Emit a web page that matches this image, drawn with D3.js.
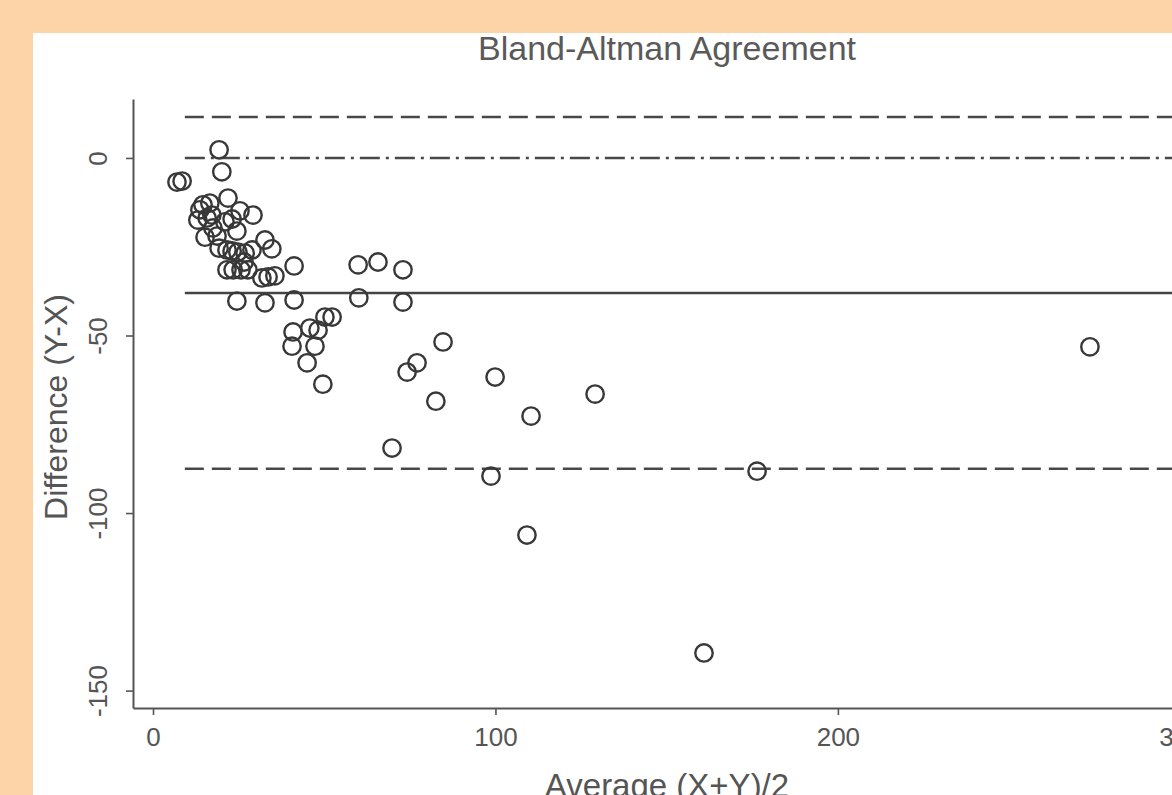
<!DOCTYPE html>
<html>
<head>
<meta charset="utf-8">
<script src="https://cdn.jsdelivr.net/npm/d3@7"></script>
<style>
  html, body { margin: 0; padding: 0; background: #FCD4A7; overflow: hidden; }
  svg { display: block; font-family: "Liberation Sans", Arial, sans-serif; }
</style>
</head>
<body>
<svg id="chart" width="1172" height="795"></svg>
<script>
// ---- Data ----
const avgValues = [
  7.0, 8.5, 19.3, 20.1, 21.9, 14.6, 16.6, 13.7, 25.4, 29.2,
  13.1, 15.8, 17.2, 21.0, 23.1, 15.2, 18.7, 24.5, 32.7, 34.7,
  19.3, 21.6, 23.1, 24.8, 26.9, 28.9, 21.6, 23.4, 25.7, 27.7,
  31.8, 33.6, 35.6, 41.2, 24.5, 32.7, 41.2, 59.9, 65.7, 73.0,
  60.1, 73.0, 50.2, 52.3, 40.9, 45.8, 48.2, 40.6, 47.3, 45.0,
  49.6, 84.7, 77.1, 74.2, 99.9, 82.6, 110.4, 129.1, 69.8, 98.7,
  176.4, 109.2, 160.9, 273.6, 17.5, 26.6
];
const diffValues = [
  -6.8, -6.5, 2.3, -3.9, -11.3, -13.2, -12.7, -14.6, -14.9, -16.1,
  -17.5, -16.9, -16.1, -18.0, -17.2, -22.3, -22.0, -20.6, -23.1, -25.6,
  -25.4, -25.9, -26.2, -26.5, -26.8, -25.9, -31.5, -31.5, -31.5, -31.5,
  -33.8, -33.5, -33.2, -30.4, -40.3, -40.8, -40.0, -30.1, -29.3, -31.5,
  -39.4, -40.6, -44.8, -44.8, -49.0, -47.9, -48.5, -53.0, -53.0, -57.7,
  -63.7, -51.8, -57.7, -60.3, -61.7, -68.5, -72.7, -66.5, -81.7, -89.6,
  -88.2, -106.2, -139.4, -53.2, -19.7, -29.3
];
// reference lines: upper limit, zero, mean, lower limit
const refLineNames = ["upper", "zero", "mean", "lower"];
const refLineValues = [11.5, 0, -38.0, -87.5];
const refLineStart = 9.3;
const refLineEnd = 310;

const xTicks = [0, 100, 200, 300];
const yTicks = [0, -50, -100, -150];
const titleText = "Bland-Altman Agreement";
const xLabel = "Average (X+Y)/2";
const yLabel = "Difference (Y-X)";

// ---- Layout ----
const svg = d3.select("#chart");
const W = 1172, H = 795;

svg.append("rect").attr("x", 0).attr("y", 0).attr("width", W).attr("height", H).attr("fill", "#FCD4A7");
svg.append("rect").attr("x", 33).attr("y", 33).attr("width", W).attr("height", H).attr("fill", "#ffffff");

const x = d3.scaleLinear().domain([-5.84, 303.7]).range([133, 1193]);
const y = d3.scaleLinear().domain([16.6, -154.9]).range([99, 708]);

const axisColor = "#555";
const textColor = "#555";
const fmt = d => String(d);   // plain hyphen-minus as in the reference

// Reference lines
const lineStyles = {
  upper: { dash: "19,8", width: 2.5, color: "#484848" },
  zero:  { dash: "20,6,3,6", width: 2.5, color: "#484848" },
  mean:  { dash: null, width: 2.5, color: "#444" },
  lower: { dash: "19,8", width: 2.5, color: "#484848" }
};
refLineNames.forEach((name, i) => {
  const st = lineStyles[name];
  const l = svg.append("line")
    .attr("x1", x(refLineStart)).attr("x2", x(refLineEnd))
    .attr("y1", y(refLineValues[i])).attr("y2", y(refLineValues[i]))
    .attr("stroke", st.color).attr("stroke-width", st.width);
  if (st.dash) l.attr("stroke-dasharray", st.dash);
});

// Points
const pts = avgValues.map((a, i) => ({ a, d: diffValues[i] }));
svg.append("g").selectAll("circle").data(pts).enter().append("circle")
  .attr("cx", p => x(p.a)).attr("cy", p => y(p.d)).attr("r", 8.7)
  .attr("fill", "none").attr("stroke", "#383838").attr("stroke-width", 2.4);

// Axes
const xAxis = svg.append("g").attr("transform", "translate(0,708)")
  .call(d3.axisBottom(x).tickValues(xTicks).tickSize(7).tickSizeOuter(0).tickFormat(fmt));
const yAxis = svg.append("g").attr("transform", "translate(133,0)")
  .call(d3.axisLeft(y).tickValues(yTicks).tickSize(7).tickSizeOuter(0).tickFormat(fmt));

[xAxis, yAxis].forEach(g => {
  g.select(".domain").attr("stroke", axisColor).attr("stroke-width", 2);
  g.selectAll(".tick line").attr("stroke", axisColor).attr("stroke-width", 1.6);
  g.selectAll(".tick text").attr("fill", textColor).attr("font-size", 26)
    .attr("font-family", "'Liberation Sans', Arial, sans-serif");
});
xAxis.selectAll(".tick text").attr("y", 20).attr("dy", "0.71em");
yAxis.selectAll(".tick text")
  .attr("transform", "rotate(-90)")
  .attr("x", 0).attr("y", -26).attr("dy", 0)
  .attr("text-anchor", "middle");

// Title and axis labels
svg.append("text").attr("x", 667).attr("y", 60).attr("text-anchor", "middle")
  .attr("font-size", 34).attr("fill", "#5a5a5a").text(titleText);
svg.append("text").attr("x", 667).attr("y", 797).attr("text-anchor", "middle")
  .attr("font-size", 33).attr("fill", textColor).text(xLabel);
svg.append("text").attr("transform", "translate(67,407) rotate(-90)").attr("text-anchor", "middle")
  .attr("font-size", 32).attr("fill", textColor).text(yLabel);
</script>
</body>
</html>
